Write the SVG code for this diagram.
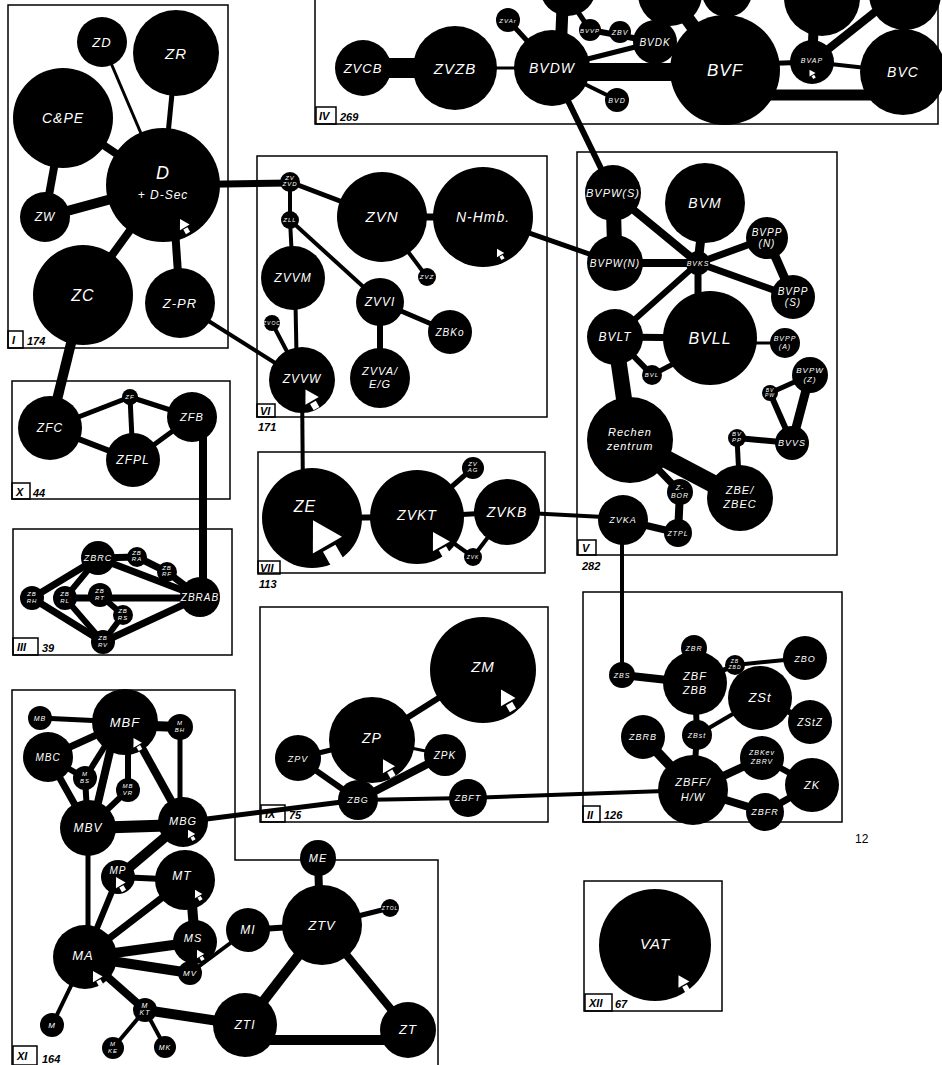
<svg xmlns="http://www.w3.org/2000/svg" xmlns:xlink="http://www.w3.org/1999/xlink" width="942" height="1065" viewBox="0 0 942 1065">
<style>
.n{fill:#000}
.t{fill:#fff;font-family:"Liberation Sans","DejaVu Sans",sans-serif;font-style:italic;text-anchor:middle;letter-spacing:1px}
.c line{stroke:#000;stroke-linecap:butt}
.b{fill:none;stroke:#000;stroke-width:1.5}
.lb{fill:none;stroke:#000;stroke-width:1.5}
.lt{fill:#000;font-family:"Liberation Sans","DejaVu Sans",sans-serif;font-style:italic;font-weight:bold;font-size:11px}
.pg{fill:#000;font-family:"Liberation Sans",sans-serif;font-size:12px}
</style>
<defs>
<g id="arr"><path d="M0,-10 L7,2 L-7,2 Z" fill="#fff"/><rect x="-3" y="3.5" width="6" height="6.5" fill="#fff"/></g>
</defs>
<rect width="942" height="1065" fill="#fff"/>
<!-- region frames -->
<g id="frames">
<rect class="b" x="8" y="5" width="220" height="343"/>
<rect class="lb" x="8" y="331" width="15" height="17"/><text class="lt" x="12" y="344">I</text><text class="lt" x="27" y="345">174</text>
<path class="b" d="M315,0 V124 H938 V0"/>
<rect class="lb" x="316" y="107" width="20" height="17"/><text class="lt" x="319" y="120">IV</text><text class="lt" x="340" y="121">269</text>
<rect class="b" x="257" y="156" width="290" height="261"/>
<rect class="lb" x="257" y="404" width="18" height="13"/><text class="lt" x="260" y="415">VI</text><text class="lt" x="258" y="431">171</text>
<rect class="b" x="258" y="452" width="287" height="121"/>
<rect class="lb" x="258" y="561" width="22" height="13"/><text class="lt" x="260" y="572">VII</text><text class="lt" x="259" y="588">113</text>
<rect class="b" x="12" y="381" width="218" height="118"/>
<rect class="lb" x="12" y="483" width="18" height="16"/><text class="lt" x="16" y="496">X</text><text class="lt" x="33" y="497">44</text>
<rect class="b" x="13" y="529" width="219" height="126"/>
<rect class="lb" x="13" y="638" width="25" height="17"/><text class="lt" x="17" y="651">III</text><text class="lt" x="42" y="652">39</text>
<rect class="b" x="577" y="152" width="260" height="403"/>
<rect class="lb" x="578" y="540" width="18" height="15"/><text class="lt" x="582" y="552">V</text><text class="lt" x="582" y="570">282</text>
<rect class="b" x="260" y="607" width="288" height="215"/>
<rect class="lb" x="261" y="805" width="24" height="17"/><text class="lt" x="265" y="818">IX</text><text class="lt" x="289" y="819">75</text>
<rect class="b" x="583" y="592" width="259" height="230"/>
<rect class="lb" x="583" y="806" width="17" height="16"/><text class="lt" x="587" y="819">II</text><text class="lt" x="604" y="819">126</text>
<rect class="b" x="584" y="881" width="138" height="130"/>
<rect class="lb" x="585" y="994" width="27" height="17"/><text class="lt" x="589" y="1007">XII</text><text class="lt" x="615" y="1008">67</text>
<path class="b" d="M12,1065 V690 H235 V860 H438 V1065"/>
<rect class="lb" x="13" y="1046" width="24" height="19"/><text class="lt" x="17" y="1060">XI</text><text class="lt" x="42" y="1063">164</text>
<text class="pg" x="855" y="843">12</text>
</g>
<!-- connectors -->
<g id="connectors" class="c">
<!-- I -->
<line x1="102" y1="42" x2="163" y2="185" stroke-width="3"/>
<line x1="176" y1="53" x2="163" y2="185" stroke-width="5"/>
<line x1="63" y1="118" x2="163" y2="185" stroke-width="8"/>
<line x1="63" y1="118" x2="45" y2="217" stroke-width="8"/>
<line x1="45" y1="217" x2="163" y2="185" stroke-width="10"/>
<line x1="83" y1="295" x2="163" y2="185" stroke-width="8"/>
<line x1="180" y1="303" x2="172" y2="185" stroke-width="8"/>
<line x1="83" y1="295" x2="50" y2="428" stroke-width="10"/>
<line x1="180" y1="303" x2="302" y2="380" stroke-width="4"/>
<line x1="163" y1="185" x2="290" y2="183" stroke-width="7"/>
<!-- IV -->
<line x1="363" y1="68" x2="455" y2="68" stroke-width="20"/>
<line x1="455" y1="68" x2="552" y2="68" stroke-width="3"/>
<line x1="552" y1="72" x2="725" y2="72" stroke-width="18"/>
<line x1="552" y1="68" x2="508" y2="20" stroke-width="5"/>
<line x1="560" y1="68" x2="563" y2="-5" stroke-width="12"/>
<line x1="570" y1="0" x2="590" y2="30" stroke-width="5"/>
<line x1="590" y1="30" x2="655" y2="42" stroke-width="6"/>
<line x1="552" y1="68" x2="655" y2="42" stroke-width="5"/>
<line x1="655" y1="42" x2="725" y2="70" stroke-width="5"/>
<line x1="552" y1="68" x2="617" y2="100" stroke-width="4"/>
<line x1="725" y1="70" x2="670" y2="-5" stroke-width="14"/>
<line x1="725" y1="70" x2="728" y2="-5" stroke-width="14"/>
<line x1="725" y1="65" x2="812" y2="62" stroke-width="5"/>
<line x1="725" y1="95" x2="903" y2="95" stroke-width="11"/>
<line x1="812" y1="62" x2="815" y2="0" stroke-width="10"/>
<line x1="812" y1="62" x2="890" y2="0" stroke-width="8"/>
<line x1="812" y1="62" x2="903" y2="72" stroke-width="4"/>
<line x1="903" y1="72" x2="905" y2="-5" stroke-width="10"/>
<line x1="552" y1="68" x2="613" y2="193" stroke-width="6"/>
<!-- VI -->
<line x1="290" y1="182" x2="382" y2="217" stroke-width="5"/>
<line x1="290" y1="182" x2="290" y2="220" stroke-width="4"/>
<line x1="290" y1="220" x2="293" y2="278" stroke-width="4"/>
<line x1="290" y1="220" x2="380" y2="302" stroke-width="4"/>
<line x1="295" y1="278" x2="297" y2="380" stroke-width="4"/>
<line x1="272" y1="323" x2="302" y2="380" stroke-width="4"/>
<line x1="382" y1="217" x2="483" y2="217" stroke-width="7"/>
<line x1="382" y1="217" x2="427" y2="277" stroke-width="4"/>
<line x1="380" y1="302" x2="450" y2="332" stroke-width="5"/>
<line x1="380" y1="302" x2="380" y2="378" stroke-width="6"/>
<line x1="483" y1="217" x2="615" y2="263" stroke-width="5"/>
<line x1="302" y1="380" x2="303" y2="500" stroke-width="4"/>
<!-- V -->
<line x1="613" y1="193" x2="615" y2="263" stroke-width="15"/>
<line x1="613" y1="193" x2="698" y2="263" stroke-width="8"/>
<line x1="615" y1="263" x2="698" y2="263" stroke-width="8"/>
<line x1="705" y1="203" x2="698" y2="263" stroke-width="9"/>
<line x1="767" y1="238" x2="698" y2="263" stroke-width="7"/>
<line x1="793" y1="297" x2="698" y2="263" stroke-width="7"/>
<line x1="767" y1="238" x2="793" y2="297" stroke-width="9"/>
<line x1="698" y1="263" x2="698" y2="320" stroke-width="7"/>
<line x1="698" y1="263" x2="615" y2="337" stroke-width="6"/>
<line x1="615" y1="337" x2="710" y2="338" stroke-width="7"/>
<line x1="615" y1="337" x2="652" y2="375" stroke-width="6"/>
<line x1="652" y1="375" x2="700" y2="350" stroke-width="5"/>
<line x1="710" y1="343" x2="785" y2="343" stroke-width="3"/>
<line x1="615" y1="337" x2="630" y2="440" stroke-width="16"/>
<line x1="810" y1="375" x2="770" y2="393" stroke-width="5"/>
<line x1="770" y1="393" x2="792" y2="443" stroke-width="6"/>
<line x1="810" y1="375" x2="792" y2="443" stroke-width="9"/>
<line x1="792" y1="443" x2="737" y2="438" stroke-width="6"/>
<line x1="737" y1="438" x2="740" y2="498" stroke-width="5"/>
<line x1="630" y1="440" x2="740" y2="498" stroke-width="18"/>
<line x1="630" y1="440" x2="680" y2="492" stroke-width="7"/>
<line x1="680" y1="492" x2="678" y2="533" stroke-width="8"/>
<line x1="623" y1="520" x2="678" y2="533" stroke-width="7"/>
<line x1="507" y1="512" x2="623" y2="518" stroke-width="4"/>
<line x1="622" y1="520" x2="622" y2="675" stroke-width="4"/>
<!-- X / III -->
<line x1="50" y1="428" x2="130" y2="397" stroke-width="5"/>
<line x1="50" y1="428" x2="133" y2="460" stroke-width="6"/>
<line x1="130" y1="397" x2="133" y2="460" stroke-width="5"/>
<line x1="130" y1="397" x2="192" y2="417" stroke-width="5"/>
<line x1="133" y1="460" x2="192" y2="417" stroke-width="5"/>
<line x1="203" y1="417" x2="203" y2="597" stroke-width="8"/>
<line x1="98" y1="558" x2="137" y2="557" stroke-width="7"/>
<line x1="137" y1="557" x2="167" y2="572" stroke-width="7"/>
<line x1="167" y1="572" x2="200" y2="597" stroke-width="7"/>
<line x1="98" y1="558" x2="200" y2="597" stroke-width="7"/>
<line x1="98" y1="558" x2="32" y2="598" stroke-width="7"/>
<line x1="98" y1="558" x2="65" y2="598" stroke-width="6"/>
<line x1="32" y1="598" x2="103" y2="642" stroke-width="7"/>
<line x1="65" y1="598" x2="103" y2="642" stroke-width="6"/>
<line x1="65" y1="598" x2="200" y2="598" stroke-width="7"/>
<line x1="100" y1="595" x2="123" y2="615" stroke-width="6"/>
<line x1="123" y1="615" x2="103" y2="642" stroke-width="6"/>
<line x1="103" y1="642" x2="200" y2="597" stroke-width="7"/>
<!-- VII -->
<line x1="312" y1="518" x2="417" y2="517" stroke-width="6"/>
<line x1="417" y1="517" x2="507" y2="512" stroke-width="5"/>
<line x1="417" y1="517" x2="473" y2="468" stroke-width="5"/>
<line x1="417" y1="517" x2="473" y2="557" stroke-width="4"/>
<line x1="473" y1="557" x2="507" y2="512" stroke-width="4"/>
<!-- IX -->
<line x1="483" y1="670" x2="372" y2="740" stroke-width="6"/>
<line x1="372" y1="740" x2="298" y2="758" stroke-width="5"/>
<line x1="372" y1="740" x2="445" y2="755" stroke-width="3"/>
<line x1="298" y1="758" x2="358" y2="800" stroke-width="6"/>
<line x1="372" y1="740" x2="358" y2="800" stroke-width="6"/>
<line x1="445" y1="755" x2="358" y2="800" stroke-width="8"/>
<line x1="183" y1="822" x2="358" y2="800" stroke-width="5"/>
<line x1="358" y1="800" x2="468" y2="798" stroke-width="4"/>
<line x1="468" y1="798" x2="693" y2="790" stroke-width="4"/>
<!-- II -->
<line x1="622" y1="675" x2="695" y2="683" stroke-width="8"/>
<line x1="694" y1="648" x2="695" y2="683" stroke-width="6"/>
<line x1="695" y1="683" x2="735" y2="665" stroke-width="5"/>
<line x1="735" y1="665" x2="805" y2="658" stroke-width="4"/>
<line x1="695" y1="683" x2="697" y2="735" stroke-width="6"/>
<line x1="697" y1="735" x2="760" y2="698" stroke-width="4"/>
<line x1="760" y1="698" x2="810" y2="722" stroke-width="6"/>
<line x1="697" y1="735" x2="693" y2="790" stroke-width="6"/>
<line x1="643" y1="737" x2="693" y2="790" stroke-width="10"/>
<line x1="693" y1="790" x2="762" y2="758" stroke-width="8"/>
<line x1="762" y1="758" x2="812" y2="785" stroke-width="6"/>
<line x1="693" y1="790" x2="765" y2="812" stroke-width="8"/>
<line x1="765" y1="812" x2="812" y2="785" stroke-width="7"/>
<!-- XI -->
<line x1="40" y1="718" x2="125" y2="722" stroke-width="5"/>
<line x1="48" y1="757" x2="125" y2="722" stroke-width="7"/>
<line x1="48" y1="757" x2="85" y2="778" stroke-width="6"/>
<line x1="48" y1="757" x2="88" y2="828" stroke-width="7"/>
<line x1="85" y1="778" x2="120" y2="722" stroke-width="6"/>
<line x1="85" y1="778" x2="88" y2="828" stroke-width="6"/>
<line x1="115" y1="730" x2="92" y2="828" stroke-width="8"/>
<line x1="128" y1="722" x2="128" y2="790" stroke-width="6"/>
<line x1="128" y1="790" x2="88" y2="828" stroke-width="6"/>
<line x1="125" y1="725" x2="180" y2="727" stroke-width="10"/>
<line x1="180" y1="727" x2="180" y2="822" stroke-width="5"/>
<line x1="132" y1="730" x2="183" y2="822" stroke-width="8"/>
<line x1="88" y1="828" x2="183" y2="825" stroke-width="12"/>
<line x1="183" y1="822" x2="118" y2="877" stroke-width="10"/>
<line x1="88" y1="828" x2="88" y2="957" stroke-width="5"/>
<line x1="118" y1="877" x2="185" y2="880" stroke-width="6"/>
<line x1="118" y1="877" x2="85" y2="957" stroke-width="6"/>
<line x1="185" y1="880" x2="85" y2="957" stroke-width="7"/>
<line x1="190" y1="880" x2="195" y2="942" stroke-width="10"/>
<line x1="195" y1="942" x2="85" y2="957" stroke-width="10"/>
<line x1="85" y1="957" x2="190" y2="973" stroke-width="10"/>
<line x1="190" y1="973" x2="248" y2="930" stroke-width="4"/>
<line x1="248" y1="930" x2="322" y2="925" stroke-width="6"/>
<line x1="318" y1="858" x2="320" y2="925" stroke-width="8"/>
<line x1="322" y1="925" x2="390" y2="908" stroke-width="5"/>
<line x1="322" y1="925" x2="245" y2="1025" stroke-width="10"/>
<line x1="322" y1="925" x2="408" y2="1030" stroke-width="8"/>
<line x1="245" y1="1040" x2="408" y2="1040" stroke-width="10"/>
<line x1="85" y1="957" x2="145" y2="1010" stroke-width="8"/>
<line x1="145" y1="1010" x2="245" y2="1025" stroke-width="10"/>
<line x1="85" y1="957" x2="52" y2="1025" stroke-width="4"/>
<line x1="145" y1="1010" x2="113" y2="1048" stroke-width="4"/>
<line x1="145" y1="1010" x2="165" y2="1047" stroke-width="4"/>
</g>
<!-- nodes: region I -->
<g id="ZD"><circle class="n" cx="102" cy="42" r="25"/><text class="t" x="102" y="47" font-size="13">ZD</text></g>
<g id="ZR"><circle class="n" cx="176" cy="53" r="43"/><text class="t" x="176" y="59" font-size="15">ZR</text></g>
<g id="CPE"><circle class="n" cx="63" cy="118" r="50"/><text class="t" x="63" y="123" font-size="14">C&amp;PE</text></g>
<g id="D"><circle class="n" cx="163" cy="185" r="57"/><text class="t" x="163" y="179" font-size="18">D</text><text class="t" x="163" y="199" font-size="12">+ D-Sec</text><use xlink:href="#arr" transform="translate(184,226) rotate(-30) scale(0.8)"/></g>
<g id="ZW"><circle class="n" cx="45" cy="217" r="25"/><text class="t" x="45" y="221" font-size="12">ZW</text></g>
<g id="ZC"><circle class="n" cx="83" cy="295" r="50"/><text class="t" x="83" y="301" font-size="16">ZC</text></g>
<g id="ZPR"><circle class="n" cx="180" cy="303" r="35"/><text class="t" x="180" y="308" font-size="13">Z-PR</text></g>
<!-- region IV -->
<g id="T1"><circle class="n" cx="568" cy="-12" r="28"/></g>
<g id="T2"><circle class="n" cx="670" cy="-6" r="32"/></g>
<g id="T3"><circle class="n" cx="727" cy="-8" r="25"/></g>
<g id="T4"><circle class="n" cx="822" cy="-2" r="38"/></g>
<g id="T5"><circle class="n" cx="905" cy="-6" r="36"/></g>
<g id="ZVCB"><circle class="n" cx="363" cy="68" r="28"/><text class="t" x="363" y="73" font-size="13">ZVCB</text></g>
<g id="ZVZB"><circle class="n" cx="455" cy="68" r="42"/><text class="t" x="455" y="74" font-size="15">ZVZB</text></g>
<g id="BVDW"><circle class="n" cx="552" cy="68" r="38"/><text class="t" x="552" y="73" font-size="14">BVDW</text></g>
<g id="BVD"><circle class="n" cx="617" cy="100" r="12"/><text class="t" x="617" y="103" font-size="7">BVD</text></g>
<g id="ZVAr"><circle class="n" cx="508" cy="20" r="12"/><text class="t" x="508" y="23" font-size="6">ZVAr</text></g>
<g id="BVVP"><circle class="n" cx="590" cy="30" r="11"/><text class="t" x="590" y="33" font-size="6">BVVP</text></g>
<g id="ZBV"><circle class="n" cx="620" cy="32" r="11"/><text class="t" x="620" y="35" font-size="7">ZBV</text></g>
<g id="BVDK"><circle class="n" cx="655" cy="42" r="22"/><text class="t" x="655" y="46" font-size="10">BVDK</text></g>
<g id="BVF"><circle class="n" cx="725" cy="70" r="55"/><text class="t" x="725" y="76" font-size="17">BVF</text></g>
<g id="BVAP"><circle class="n" cx="812" cy="62" r="22"/><text class="t" x="812" y="63" font-size="7">BVAP</text><use xlink:href="#arr" transform="translate(812,74) rotate(-30) scale(0.5)"/></g>
<g id="BVC"><circle class="n" cx="903" cy="72" r="43"/><text class="t" x="903" y="77" font-size="14">BVC</text></g>
<!-- region VI -->
<g id="ZVZVD"><circle class="n" cx="290" cy="182" r="10"/><text class="t" x="290" y="180" font-size="6">ZV<tspan x="290" dy="6">ZVD</tspan></text></g>
<g id="ZLL"><circle class="n" cx="290" cy="220" r="9"/><text class="t" x="290" y="222" font-size="6">ZLL</text></g>
<g id="ZVN"><circle class="n" cx="382" cy="217" r="45"/><text class="t" x="382" y="222" font-size="15">ZVN</text></g>
<g id="NHmb"><circle class="n" cx="483" cy="217" r="50"/><text class="t" x="483" y="222" font-size="14">N-Hmb.</text><use xlink:href="#arr" transform="translate(500,254) rotate(-30) scale(0.6)"/></g>
<g id="ZVZ"><circle class="n" cx="427" cy="277" r="9"/><text class="t" x="427" y="279" font-size="6">ZVZ</text></g>
<g id="ZVVM"><circle class="n" cx="293" cy="278" r="32"/><text class="t" x="293" y="282" font-size="12">ZVVM</text></g>
<g id="ZVVI"><circle class="n" cx="380" cy="302" r="24"/><text class="t" x="380" y="306" font-size="12">ZVVI</text></g>
<g id="ZBKo"><circle class="n" cx="450" cy="332" r="22"/><text class="t" x="450" y="336" font-size="10">ZBKo</text></g>
<g id="ZVVA"><circle class="n" cx="380" cy="378" r="30"/><text class="t" x="380" y="375" font-size="11">ZVVA/<tspan x="380" dy="13">E/G</tspan></text></g>
<g id="ZVOC"><circle class="n" cx="272" cy="323" r="8"/><text class="t" x="272" y="325" font-size="5">ZVOC</text></g>
<g id="ZVVW"><circle class="n" cx="302" cy="380" r="33"/><text class="t" x="302" y="383" font-size="12">ZVVW</text><use xlink:href="#arr" transform="translate(311,399) rotate(-30) scale(1.1)"/></g>
<!-- region V -->
<g id="BVKS"><circle class="n" cx="698" cy="263" r="12"/><text class="t" x="698" y="266" font-size="7">BVKS</text></g>
<g id="BVPWS"><circle class="n" cx="613" cy="193" r="28"/><text class="t" x="613" y="197" font-size="11">BVPW(S)</text></g>
<g id="BVM"><circle class="n" cx="705" cy="203" r="40"/><text class="t" x="705" y="208" font-size="14">BVM</text></g>
<g id="BVPWN"><circle class="n" cx="615" cy="263" r="28"/><text class="t" x="615" y="267" font-size="10">BVPW(N)</text></g>
<g id="BVPPN"><circle class="n" cx="767" cy="238" r="21"/><text class="t" x="767" y="236" font-size="10">BVPP<tspan x="767" dy="11">(N)</tspan></text></g>
<g id="BVPPS"><circle class="n" cx="793" cy="297" r="22"/><text class="t" x="793" y="295" font-size="10">BVPP<tspan x="793" dy="11">(S)</tspan></text></g>
<g id="BVLT"><circle class="n" cx="615" cy="337" r="28"/><text class="t" x="615" y="341" font-size="12">BVLT</text></g>
<g id="BVLL"><circle class="n" cx="710" cy="338" r="47"/><text class="t" x="710" y="344" font-size="16">BVLL</text></g>
<g id="BVPPA"><circle class="n" cx="785" cy="343" r="15"/><text class="t" x="785" y="341" font-size="7">BVPP<tspan x="785" dy="8">(A)</tspan></text></g>
<g id="BVL"><circle class="n" cx="652" cy="375" r="10"/><text class="t" x="652" y="377" font-size="6">BVL</text></g>
<g id="BVPWZ"><circle class="n" cx="810" cy="375" r="18"/><text class="t" x="810" y="373" font-size="8">BVPW<tspan x="810" dy="9">(Z)</tspan></text></g>
<g id="BVPW2"><circle class="n" cx="770" cy="393" r="8"/><text class="t" x="770" y="392" font-size="5">BV<tspan x="770" dy="5">PW</tspan></text></g>
<g id="Rechen"><circle class="n" cx="630" cy="440" r="43"/><text class="t" x="630" y="436" font-size="11">Rechen<tspan x="630" dy="14">zentrum</tspan></text></g>
<g id="BVPP2"><circle class="n" cx="737" cy="438" r="9"/><text class="t" x="737" y="436" font-size="6">BV<tspan x="737" dy="6">PP</tspan></text></g>
<g id="BVVS"><circle class="n" cx="792" cy="443" r="17"/><text class="t" x="792" y="446" font-size="9">BVVS</text></g>
<g id="ZBE"><circle class="n" cx="740" cy="498" r="33"/><text class="t" x="740" y="494" font-size="11">ZBE/<tspan x="740" dy="14">ZBEC</tspan></text></g>
<g id="ZBOR"><circle class="n" cx="680" cy="492" r="13"/><text class="t" x="680" y="490" font-size="7">Z-<tspan x="680" dy="8">BOR</tspan></text></g>
<g id="ZVKA"><circle class="n" cx="623" cy="520" r="25"/><text class="t" x="623" y="523" font-size="9">ZVKA</text></g>
<g id="ZTPL"><circle class="n" cx="678" cy="533" r="14"/><text class="t" x="678" y="536" font-size="7">ZTPL</text></g>
<!-- region X -->
<g id="ZFC"><circle class="n" cx="50" cy="428" r="32"/><text class="t" x="50" y="432" font-size="12">ZFC</text></g>
<g id="ZF"><circle class="n" cx="130" cy="397" r="8"/><text class="t" x="130" y="399" font-size="6">ZF</text></g>
<g id="ZFPL"><circle class="n" cx="133" cy="460" r="27"/><text class="t" x="133" y="464" font-size="12">ZFPL</text></g>
<g id="ZFB"><circle class="n" cx="192" cy="417" r="25"/><text class="t" x="192" y="421" font-size="11">ZFB</text></g>
<!-- region III -->
<g id="ZBRC"><circle class="n" cx="98" cy="558" r="17"/><text class="t" x="98" y="561" font-size="9">ZBRC</text></g>
<g id="ZBRA"><circle class="n" cx="137" cy="557" r="10"/><text class="t" x="137" y="555" font-size="6">ZB<tspan x="137" dy="6">RA</tspan></text></g>
<g id="ZBRF"><circle class="n" cx="167" cy="572" r="10"/><text class="t" x="167" y="570" font-size="6">ZB<tspan x="167" dy="6">RF</tspan></text></g>
<g id="ZBRAB"><circle class="n" cx="200" cy="597" r="20"/><text class="t" x="200" y="601" font-size="10">ZBRAB</text></g>
<g id="ZBRH"><circle class="n" cx="32" cy="598" r="12"/><text class="t" x="32" y="596" font-size="6">ZB<tspan x="32" dy="7">RH</tspan></text></g>
<g id="ZBRL"><circle class="n" cx="65" cy="598" r="12"/><text class="t" x="65" y="596" font-size="6">ZB<tspan x="65" dy="7">RL</tspan></text></g>
<g id="ZBRT"><circle class="n" cx="100" cy="595" r="12"/><text class="t" x="100" y="593" font-size="6">ZB<tspan x="100" dy="7">RT</tspan></text></g>
<g id="ZBRS"><circle class="n" cx="123" cy="615" r="10"/><text class="t" x="123" y="613" font-size="6">ZB<tspan x="123" dy="7">RS</tspan></text></g>
<g id="ZBRV"><circle class="n" cx="103" cy="642" r="12"/><text class="t" x="103" y="640" font-size="6">ZB<tspan x="103" dy="7">RV</tspan></text></g>
<!-- region VII -->
<g id="ZE"><circle class="n" cx="312" cy="518" r="50"/><text class="t" x="305" y="512" font-size="16">ZE</text><use xlink:href="#arr" transform="translate(325,541) rotate(-30) scale(2.4)"/></g>
<g id="ZVKT"><circle class="n" cx="417" cy="517" r="47"/><text class="t" x="417" y="520" font-size="14">ZVKT</text><use xlink:href="#arr" transform="translate(440,544) rotate(-30) scale(1.4)"/></g>
<g id="ZVKB"><circle class="n" cx="507" cy="512" r="33"/><text class="t" x="507" y="517" font-size="14">ZVKB</text></g>
<g id="ZVAG"><circle class="n" cx="473" cy="468" r="11"/><text class="t" x="473" y="466" font-size="6">ZV<tspan x="473" dy="6">AG</tspan></text></g>
<g id="ZVK"><circle class="n" cx="473" cy="557" r="9"/><text class="t" x="473" y="559" font-size="5">ZVK</text></g>
<!-- region IX -->
<g id="ZM"><circle class="n" cx="483" cy="670" r="53"/><text class="t" x="483" y="672" font-size="15">ZM</text><use xlink:href="#arr" transform="translate(507,700) rotate(-30) scale(1.2)"/></g>
<g id="ZP"><circle class="n" cx="372" cy="740" r="43"/><text class="t" x="372" y="743" font-size="14">ZP</text><use xlink:href="#arr" transform="translate(388,768) rotate(-30) scale(1)"/></g>
<g id="ZPV"><circle class="n" cx="298" cy="758" r="23"/><text class="t" x="298" y="762" font-size="9">ZPV</text></g>
<g id="ZPK"><circle class="n" cx="445" cy="755" r="21"/><text class="t" x="445" y="759" font-size="10">ZPK</text></g>
<g id="ZBG"><circle class="n" cx="358" cy="800" r="20"/><text class="t" x="358" y="803" font-size="9">ZBG</text></g>
<g id="ZBFT"><circle class="n" cx="468" cy="798" r="19"/><text class="t" x="468" y="801" font-size="9">ZBFT</text></g>
<!-- region II -->
<g id="ZBR"><circle class="n" cx="694" cy="648" r="13"/><text class="t" x="694" y="651" font-size="7">ZBR</text></g>
<g id="ZBZBD"><circle class="n" cx="735" cy="665" r="10"/><text class="t" x="735" y="663" font-size="5">ZB<tspan x="735" dy="6">ZBD</tspan></text></g>
<g id="ZBO"><circle class="n" cx="805" cy="658" r="22"/><text class="t" x="805" y="662" font-size="9">ZBO</text></g>
<g id="ZBS"><circle class="n" cx="622" cy="675" r="13"/><text class="t" x="622" y="678" font-size="7">ZBS</text></g>
<g id="ZBF"><circle class="n" cx="695" cy="683" r="32"/><text class="t" x="695" y="680" font-size="11">ZBF<tspan x="695" dy="14">ZBB</tspan></text></g>
<g id="ZSt"><circle class="n" cx="760" cy="698" r="32"/><text class="t" x="760" y="702" font-size="13">ZSt</text></g>
<g id="ZStZ"><circle class="n" cx="810" cy="722" r="22"/><text class="t" x="810" y="726" font-size="10">ZStZ</text></g>
<g id="ZBRB"><circle class="n" cx="643" cy="737" r="22"/><text class="t" x="643" y="740" font-size="9">ZBRB</text></g>
<g id="ZBst"><circle class="n" cx="697" cy="735" r="15"/><text class="t" x="697" y="738" font-size="7">ZBst</text></g>
<g id="ZBKev"><circle class="n" cx="762" cy="758" r="22"/><text class="t" x="762" y="755" font-size="7">ZBKev<tspan x="762" dy="9">ZBRV</tspan></text></g>
<g id="ZBFF"><circle class="n" cx="693" cy="790" r="35"/><text class="t" x="693" y="786" font-size="11">ZBFF/<tspan x="693" dy="15">H/W</tspan></text></g>
<g id="ZK"><circle class="n" cx="812" cy="785" r="27"/><text class="t" x="812" y="789" font-size="11">ZK</text></g>
<g id="ZBFR"><circle class="n" cx="765" cy="812" r="19"/><text class="t" x="765" y="815" font-size="9">ZBFR</text></g>
<!-- region XI -->
<g id="MB"><circle class="n" cx="40" cy="718" r="12"/><text class="t" x="40" y="721" font-size="7">MB</text></g>
<g id="MBF"><circle class="n" cx="125" cy="722" r="33"/><text class="t" x="125" y="727" font-size="13">MBF</text><use xlink:href="#arr" transform="translate(137,744) rotate(-30) scale(0.7)"/></g>
<g id="MBH"><circle class="n" cx="180" cy="727" r="13"/><text class="t" x="180" y="725" font-size="6">M<tspan x="180" dy="7">BH</tspan></text></g>
<g id="MBC"><circle class="n" cx="48" cy="757" r="25"/><text class="t" x="48" y="761" font-size="10">MBC</text></g>
<g id="MBS"><circle class="n" cx="85" cy="778" r="12"/><text class="t" x="85" y="776" font-size="6">M<tspan x="85" dy="7">BS</tspan></text></g>
<g id="MBVR"><circle class="n" cx="128" cy="790" r="12"/><text class="t" x="128" y="788" font-size="6">MB<tspan x="128" dy="7">VR</tspan></text></g>
<g id="MBV"><circle class="n" cx="88" cy="828" r="28"/><text class="t" x="88" y="832" font-size="12">MBV</text></g>
<g id="MBG"><circle class="n" cx="183" cy="822" r="25"/><text class="t" x="183" y="825" font-size="11">MBG</text><use xlink:href="#arr" transform="translate(191,835) rotate(-30) scale(0.6)"/></g>
<g id="MP"><circle class="n" cx="118" cy="877" r="17"/><text class="t" x="118" y="874" font-size="10">MP</text><use xlink:href="#arr" transform="translate(120,884) rotate(-30) scale(0.8)"/></g>
<g id="MT"><circle class="n" cx="185" cy="880" r="30"/><text class="t" x="182" y="880" font-size="12">MT</text><use xlink:href="#arr" transform="translate(198,895) rotate(-30) scale(0.6)"/></g>
<g id="MS"><circle class="n" cx="195" cy="942" r="22"/><text class="t" x="193" y="942" font-size="11">MS</text><use xlink:href="#arr" transform="translate(200,955) rotate(-30) scale(0.6)"/></g>
<g id="MA"><circle class="n" cx="85" cy="957" r="32"/><text class="t" x="83" y="960" font-size="13">MA</text><use xlink:href="#arr" transform="translate(97,978) rotate(-30) scale(0.8)"/></g>
<g id="MV"><circle class="n" cx="190" cy="973" r="12"/><text class="t" x="190" y="976" font-size="8">MV</text></g>
<g id="MI"><circle class="n" cx="248" cy="930" r="22"/><text class="t" x="248" y="934" font-size="12">MI</text></g>
<g id="ME"><circle class="n" cx="318" cy="858" r="18"/><text class="t" x="318" y="862" font-size="11">ME</text></g>
<g id="ZTV"><circle class="n" cx="322" cy="925" r="40"/><text class="t" x="322" y="930" font-size="13">ZTV</text></g>
<g id="ZTOL"><circle class="n" cx="390" cy="908" r="9"/><text class="t" x="390" y="910" font-size="5">ZTOL</text></g>
<g id="ZTI"><circle class="n" cx="245" cy="1025" r="32"/><text class="t" x="245" y="1029" font-size="12">ZTI</text></g>
<g id="ZT"><circle class="n" cx="408" cy="1030" r="28"/><text class="t" x="408" y="1034" font-size="13">ZT</text></g>
<g id="M"><circle class="n" cx="52" cy="1025" r="12"/><text class="t" x="52" y="1028" font-size="8">M</text></g>
<g id="MKT"><circle class="n" cx="145" cy="1010" r="12"/><text class="t" x="145" y="1008" font-size="7">M<tspan x="145" dy="7">KT</tspan></text></g>
<g id="MKE"><circle class="n" cx="113" cy="1048" r="11"/><text class="t" x="113" y="1046" font-size="6">M<tspan x="113" dy="7">KE</tspan></text></g>
<g id="MK"><circle class="n" cx="165" cy="1047" r="11"/><text class="t" x="165" y="1050" font-size="7">MK</text></g>
<!-- region XII -->
<g id="VAT"><circle class="n" cx="655" cy="945" r="56"/><text class="t" x="655" y="949" font-size="15">VAT</text><use xlink:href="#arr" transform="translate(683,983) rotate(-30) scale(0.9)"/></g>
</svg>
